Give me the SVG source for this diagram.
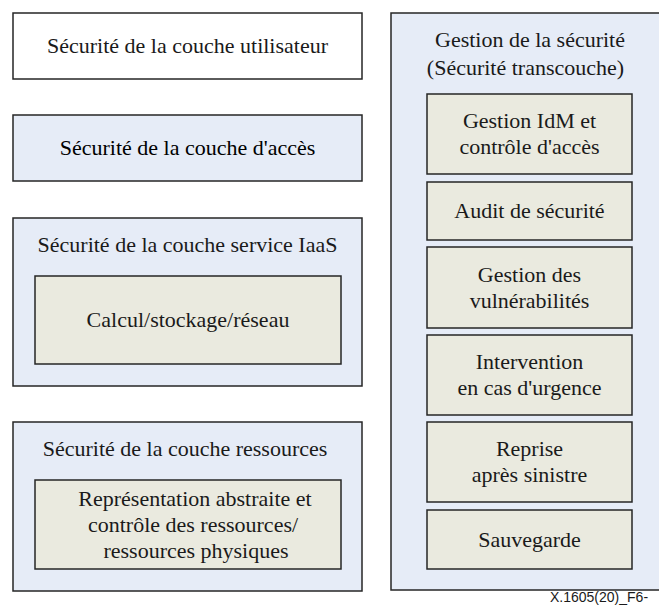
<svg xmlns="http://www.w3.org/2000/svg" width="659" height="606" viewBox="0 0 659 606">
<style>
.blue{fill:#e6ecf7;stroke:#262626;stroke-width:1.5}
.white{fill:#ffffff;stroke:#262626;stroke-width:1.5}
.beige{fill:#eaeadf;stroke:#262626;stroke-width:1.5}
.t{font-family:'Liberation Serif',serif;font-size:22px;fill:#1a1a1a;text-anchor:middle}
.cap{font-family:'Liberation Sans',Arial,sans-serif;font-size:14px;fill:#1a1a1a}
</style>
<rect width="659" height="606" fill="#ffffff"/>
<g id="couche-utilisateur">
<rect class="white" x="13" y="13" width="349" height="66"/>
<text class="t" x="187.5" y="53" font-family="DejaVu Serif">Sécurité de la couche utilisateur</text>
</g>
<g id="couche-acces">
<rect class="blue" x="13" y="115" width="349" height="66"/>
<text x="187.5" y="155" font-family="Liberation Serif" font-size="22" text-anchor="middle">Sécurité de la couche d'accès</text>
</g>
<g id="couche-iaas">
<rect class="blue" x="13" y="218" width="349" height="168"/>
<text class="t" x="187.5" y="252">Sécurité de la couche service IaaS</text>
</g>
<g id="calcul">
<rect class="beige" x="35" y="276" width="306" height="88"/>
<text class="t" x="188" y="327">Calcul/stockage/réseau</text>
</g>
<g id="couche-ressources">
<rect class="blue" x="13" y="422" width="349" height="169"/>
<text class="t" x="185" y="456">Sécurité de la couche ressources</text>
</g>
<g id="representation">
<rect class="beige" x="35" y="480" width="306" height="89"/>
<text class="t" x="195" y="505.5">Représentation abstraite et</text>
<text class="t" x="193" y="531.5">contrôle des ressources/</text>
<text class="t" x="196" y="557.5">ressources physiques</text>
</g>
<g id="gestion-securite">
<rect class="blue" x="391" y="13" width="280" height="577"/>
<text class="t" x="530" y="47">Gestion de la sécurité</text>
<text class="t" x="525.5" y="75">(Sécurité transcouche)</text>
</g>
<g id="idm">
<rect class="beige" x="427" y="94" width="205" height="80"/>
<text class="t" x="529.5" y="128">Gestion IdM et</text>
<text class="t" x="529.5" y="154">contrôle d'accès</text>
</g>
<g id="audit">
<rect class="beige" x="427" y="182" width="205" height="58"/>
<text class="t" x="529.5" y="218">Audit de sécurité</text>
</g>
<g id="vulnerabilites">
<rect class="beige" x="427" y="247" width="205" height="81"/>
<text class="t" x="529.5" y="281.5">Gestion des</text>
<text class="t" x="529.5" y="307.5">vulnérabilités</text>
</g>
<g id="intervention">
<rect class="beige" x="427" y="335" width="205" height="80"/>
<text class="t" x="529.5" y="369">Intervention</text>
<text class="t" x="529.5" y="395">en cas d'urgence</text>
</g>
<g id="reprise">
<rect class="beige" x="427" y="422" width="205" height="80"/>
<text class="t" x="529.5" y="456">Reprise</text>
<text class="t" x="529.5" y="482">après sinistre</text>
</g>
<g id="sauvegarde">
<rect class="beige" x="427" y="510" width="205" height="59"/>
<text class="t" x="529.5" y="546.5">Sauvegarde</text>
</g>
<g id="connectors"></g>
<text class="cap" x="550" y="602">X.1605(20)_F6-</text>
</svg>
